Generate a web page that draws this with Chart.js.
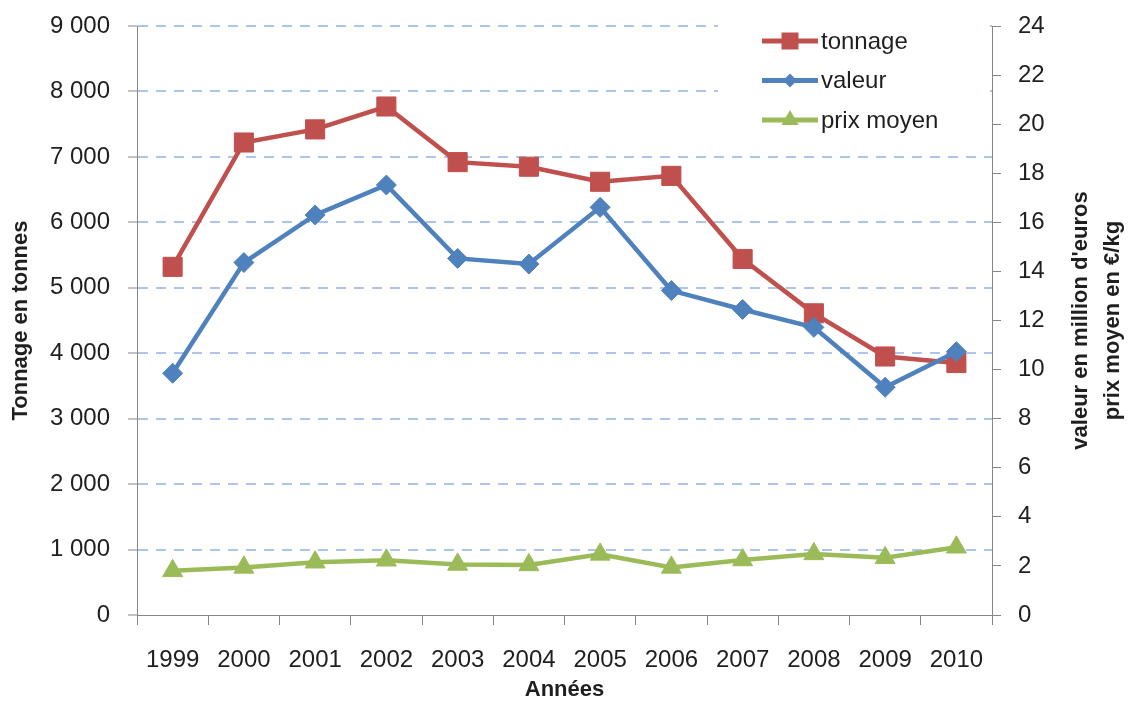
<!DOCTYPE html>
<html>
<head>
<meta charset="utf-8">
<script src="https://cdn.jsdelivr.net/npm/chart.js@4.4.1/dist/chart.umd.min.js"></script>
<style>
  html, body { margin: 0; padding: 0; background: #fff; }
  #wrap { width: 1130px; height: 701px; }
</style>
</head>
<body>
<div id="wrap"><canvas id="chart" width="1130" height="701"></canvas></div>
<script>
const years = ['1999', '2000', '2001', '2002', '2003', '2004', '2005', '2006', '2007', '2008', '2009', '2010'];
const tonnage = [5320, 7220, 7420, 7770, 6920, 6850, 6620, 6710, 5440, 4610, 3950, 3850];
const valeur = [9.85, 14.36, 16.30, 17.52, 14.53, 14.30, 16.61, 13.22, 12.45, 11.72, 9.28, 10.73];
const prixMoyen = [1.80, 1.94, 2.15, 2.23, 2.06, 2.04, 2.47, 1.94, 2.24, 2.49, 2.33, 2.76];

const leftMax = 9000;
const leftStep = 1000;
const rightMax = 24;
const rightStep = 2;
const rightTitle = ["valeur en million d'euros", 'prix moyen en €/kg'];

const AXIS = '#868686';
const GRID = '#aec4ec';
const TEXT = '#1f1f1f';
const FONT = '"Liberation Sans", Arial, sans-serif';

Chart.defaults.font.family = FONT;
Chart.defaults.color = TEXT;

function fmtThousands(v) {
  return String(v).replace(/\B(?=(\d{3})+(?!\d))/g, ' ');
}

// fixed box sizes so the plot area lands where the reference has it
function fixBox(size) {
  return (scale) => {
    if (scale.isHorizontal()) {
      scale.height = size;
    } else {
      scale.width = size;
    }
    scale.paddingTop = 0;
    scale.paddingBottom = 0;
    scale.paddingLeft = 0;
    scale.paddingRight = 0;
  };
}

function drawMarker(ctx, style, x, y, r) {
  ctx.beginPath();
  if (style === 'rect') {
    ctx.rect(x - r, y - r, 2 * r, 2 * r);
  } else if (style === 'rectRot') {
    ctx.moveTo(x - r, y);
    ctx.lineTo(x, y - r);
    ctx.lineTo(x + r, y);
    ctx.lineTo(x, y + r);
    ctx.closePath();
  } else {
    ctx.moveTo(x, y - r);
    ctx.lineTo(x + r * 0.866, y + r / 2);
    ctx.lineTo(x - r * 0.866, y + r / 2);
    ctx.closePath();
  }
  ctx.fill();
}

// legend in the top right corner, line with marker in the middle
const legendBox = {
  id: 'legendBox',
  afterDraw(chart) {
    const ctx = chart.ctx;
    const sizes = { rect: 8.5, rectRot: 7, triangle: 10 };
    ctx.save();
    ctx.fillStyle = '#fff';
    ctx.fillRect(718, 18, 272, 124);
    chart.data.datasets.forEach((ds, i) => {
      const y = 41 + i * 39.5;
      ctx.strokeStyle = ds.borderColor;
      ctx.lineWidth = 5;
      ctx.beginPath();
      ctx.moveTo(762, y);
      ctx.lineTo(818, y);
      ctx.stroke();
      ctx.fillStyle = ds.borderColor;
      drawMarker(ctx, ds.pointStyle, 790, y, sizes[ds.pointStyle]);
      ctx.fillStyle = TEXT;
      ctx.font = '24px ' + FONT;
      ctx.textBaseline = 'middle';
      ctx.textAlign = 'left';
      ctx.fillText(ds.label, 821, y + 1);
    });
    ctx.restore();
  }
};

// right title reads bottom to top, like the left one
const rightAxisTitle = {
  id: 'rightAxisTitle',
  afterDraw(chart) {
    const ctx = chart.ctx;
    const area = chart.chartArea;
    const cy = (area.top + area.bottom) / 2;
    ctx.save();
    ctx.fillStyle = TEXT;
    ctx.font = 'bold 22px ' + FONT;
    ctx.textAlign = 'center';
    ctx.textBaseline = 'middle';
    rightTitle.forEach((t, i) => {
      ctx.save();
      ctx.translate(1081 + i * 32, cy);
      ctx.rotate(-Math.PI / 2);
      ctx.fillText(t, 0, 0);
      ctx.restore();
    });
    ctx.restore();
  }
};

new Chart(document.getElementById('chart'), {
  type: 'line',
  data: {
    labels: years,
    datasets: [
      {
        label: 'tonnage',
        data: tonnage,
        yAxisID: 'y',
        order: 2,
        borderColor: '#c0504d',
        backgroundColor: '#c0504d',
        borderWidth: 4.5,
        pointStyle: 'rect',
        pointRadius: 13.5,
        pointBorderWidth: 1,
        pointBackgroundColor: '#c0504d',
        pointBorderColor: '#c0504d'
      },
      {
        label: 'valeur',
        data: valeur,
        yAxisID: 'y1',
        order: 1,
        borderColor: '#4f81bd',
        backgroundColor: '#4f81bd',
        borderWidth: 4.5,
        pointStyle: 'rectRot',
        pointRadius: 10,
        pointBorderWidth: 1,
        pointBackgroundColor: '#4f81bd',
        pointBorderColor: '#4f81bd'
      },
      {
        label: 'prix moyen',
        data: prixMoyen,
        yAxisID: 'y1',
        order: 0,
        borderColor: '#9bbb59',
        backgroundColor: '#9bbb59',
        borderWidth: 4.5,
        pointStyle: 'triangle',
        pointRadius: 11.5,
        pointBorderWidth: 1,
        pointBackgroundColor: '#9bbb59',
        pointBorderColor: '#9bbb59'
      }
    ]
  },
  options: {
    responsive: false,
    animation: false,
    layout: { autoPadding: false, padding: { top: 26, left: 0, right: 0, bottom: 0 } },
    plugins: {
      legend: { display: false },
      tooltip: { enabled: false }
    },
    scales: {
      x: {
        type: 'category',
        offset: true,
        grid: {
          offset: true,
          drawOnChartArea: false,
          color: AXIS,
          tickLength: 10
        },
        border: { color: AXIS },
        ticks: {
          font: { size: 24 },
          padding: 21,
          maxRotation: 0,
          autoSkip: false
        },
        title: {
          display: true,
          text: 'Années',
          font: { size: 22, weight: 'bold', lineHeight: 1 },
          padding: { top: 0, bottom: 0 }
        },
        afterFit: fixBox(86)
      },
      y: {
        position: 'left',
        min: 0,
        max: leftMax,
        ticks: {
          stepSize: leftStep,
          font: { size: 24 },
          padding: 18,
          callback: (v) => fmtThousands(v)
        },
        grid: {
          color: (c) => (c.tick && c.tick.value === 0 ? 'rgba(0,0,0,0)' : GRID),
          lineWidth: 2,
          tickColor: AXIS,
          tickWidth: 1,
          tickLength: 9,
          tickBorderDash: []
        },
        border: { color: AXIS, dash: [10, 8] },
        title: {
          display: true,
          text: 'Tonnage en tonnes',
          font: { size: 22, weight: 'bold', lineHeight: 1 },
          padding: { top: 10, bottom: 0 }
        },
        afterFit: fixBox(137)
      },
      y1: {
        position: 'right',
        min: 0,
        max: rightMax,
        ticks: {
          stepSize: rightStep,
          font: { size: 24 },
          padding: 17
        },
        grid: {
          drawOnChartArea: false,
          color: AXIS,
          tickLength: 9
        },
        border: { color: AXIS },
        afterFit: fixBox(138)
      }
    }
  },
  plugins: [legendBox, rightAxisTitle]
});
</script>
</body>
</html>
